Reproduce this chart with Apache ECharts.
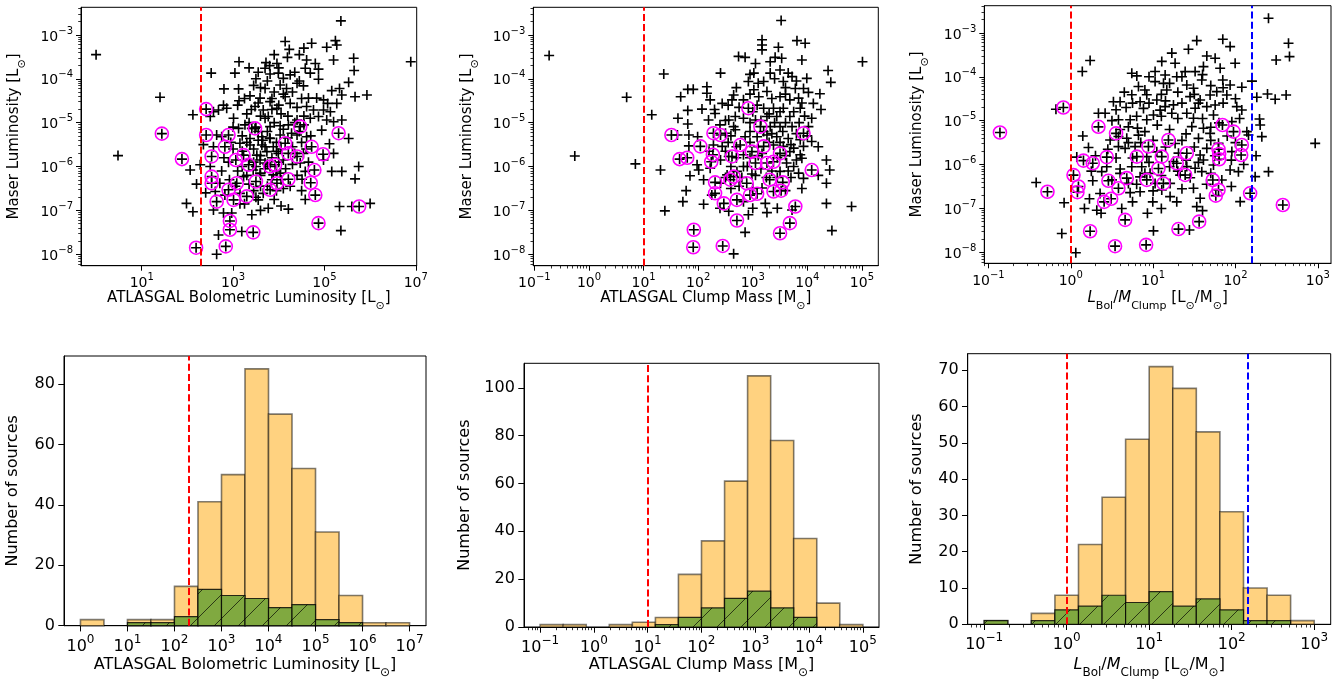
<!DOCTYPE html>
<html><head><meta charset="utf-8">
<script src="https://cdn.jsdelivr.net/npm/echarts@6/dist/echarts.min.js"></script>
<style>html,body{margin:0;padding:0;background:#fff}#c{width:1343px;height:681px}</style>
</head><body><div id="c"></div>
<script>
// ---------- DATA (all positional values are log10 of the physical quantity) ----------
// Panel 1: [log10 L_bol (Lsun), log10 L_maser (Lsun)]
const lumBolMaser = [[0.0,-3.45],[0.48,-5.75],[1.40,-4.42],
[4.14,-3.15],[4.23,-3.33],[4.19,-3.51],[3.96,-3.65],[3.72,-3.63],[3.70,-3.76],[3.81,-3.89],[3.99,-3.87],[4.10,-3.99],[4.25,-3.91],[3.13,-3.61],[3.04,-3.87],[2.52,-3.87],[2.80,-4.23],[3.12,-4.23],[3.13,-4.50],[3.37,-4.39],[3.59,-4.44],[3.48,-4.63],[3.70,-4.22],[4.03,-4.14],[4.17,-4.22],[4.14,-4.41],[4.25,-4.56],[3.81,-4.52],[3.96,-4.67],[3.66,-4.71],[3.77,-4.86],[2.79,-4.60],[2.86,-4.67],[2.68,-4.71],[2.57,-4.75],[2.50,-4.86],[2.12,-4.82],[3.01,-4.90],[3.26,-5.05],[3.12,-5.13],[3.41,-5.13],[3.81,-5.09],[4.03,-5.07],[4.21,-5.05],[4.28,-5.24],[4.03,-5.28],[3.81,-5.36],[3.63,-5.32],[2.64,-5.28],[2.75,-5.32],[2.57,-5.55],[3.15,-5.47],[3.37,-5.51],[3.63,-5.51],[3.88,-5.55],[3.99,-5.70],[3.74,-5.66],[3.52,-5.74],[2.28,-5.96],[2.50,-6.00],[2.06,-6.08],[2.20,-6.40],[2.71,-6.38],[2.92,-6.30],[3.23,-6.23],[3.59,-6.15],[4.03,-6.15],[3.66,-6.61],[3.15,-6.61],[2.82,-6.65],[2.61,-6.57],[2.57,-6.99],[1.98,-6.84],[2.12,-7.03],[2.79,-7.06],[2.97,-7.06],[3.41,-7.10],[3.19,-7.48],[2.68,-7.56],[2.64,-8.00],[3.55,-6.76],[3.77,-6.95],[4.21,-6.97],[3.37,-5.36],[3.59,-5.85],[3.70,-5.92],[3.44,-6.08],[3.88,-6.19],
[5.36,-2.68],[4.72,-3.19],[5.05,-3.28],[5.24,-3.13],[5.27,-3.23],[5.20,-3.57],[5.64,-3.53],[5.65,-3.81],[4.61,-3.57],[4.58,-3.76],[4.80,-3.65],[4.87,-3.78],[4.69,-3.87],[4.87,-4.01],[5.53,-4.08],[4.40,-4.10],[4.54,-4.16],[5.16,-4.27],[5.33,-4.22],[5.38,-4.37],[5.67,-4.41],[5.93,-4.37],[4.65,-4.44],[4.83,-4.44],[4.98,-4.48],[5.07,-4.56],[5.27,-4.56],[4.61,-4.63],[4.76,-4.71],[4.98,-4.71],[5.13,-4.75],[4.40,-4.94],[4.69,-4.90],[4.87,-4.86],[5.05,-4.94],[5.20,-4.98],[5.38,-4.94],[4.94,-5.17],[5.53,-5.36],[4.61,-5.32],[4.40,-5.28],[5.11,-5.48],[5.20,-5.70],[4.54,-5.70],[4.58,-6.11],[5.16,-6.11],[5.38,-6.11],[5.75,-6.00],[5.67,-6.28],[4.51,-6.29],[4.58,-6.75],[5.33,-6.91],[5.60,-6.91],[6.00,-6.84],[5.36,-7.46],[6.89,-3.61],[4.98,-5.85],[4.47,-5.92],
[3.5,-4.0],[3.6,-4.2],[3.9,-4.3],[4.0,-4.6],[3.7,-4.9],[3.9,-5.0],[3.55,-5.2],[3.65,-5.4],[3.95,-5.45],[4.05,-5.6],[3.45,-5.6],[3.6,-5.75],[3.85,-5.8],[4.1,-5.85],[3.5,-6.0],[3.7,-6.05],[3.95,-6.1],[4.15,-6.05],[3.3,-6.2],[3.6,-6.45],[3.45,-6.55],[4.1,-6.5],[3.85,-4.7],[4.2,-4.85],[3.3,-4.8],[3.2,-5.3],[3.0,-5.6],[2.9,-5.9],[3.1,-6.1],[4.3,-5.55],
[3.35,-3.75],[3.55,-3.85],[3.8,-3.7],[4.0,-3.75],[4.35,-3.85],[4.45,-4.05],[3.45,-4.15],[3.75,-4.05],[4.1,-4.35],[4.3,-4.3],[4.5,-4.45],[3.25,-4.45],[3.55,-4.55],[3.85,-4.45],[4.4,-4.65],[3.4,-4.7],[3.6,-4.85],[4.05,-4.8],[4.35,-5.0],[4.55,-5.05],[3.35,-5.0],[3.5,-5.1],[3.75,-5.2],[4.1,-5.15],[4.45,-5.2],[3.3,-5.45],[3.55,-5.4],[3.8,-5.35],[4.2,-5.35],[4.5,-5.45],[3.2,-5.65],[3.7,-5.55],[3.95,-5.65],[4.35,-5.7],[4.6,-5.6],[3.35,-5.85],[3.45,-5.9],[3.75,-5.95],[4.0,-5.9],[4.3,-5.95],[3.2,-6.0],[3.6,-6.2],[3.85,-6.3],[4.05,-6.3],[4.4,-6.2],[3.35,-6.4],[3.75,-6.45],[3.95,-6.55],[4.25,-6.45],[3.5,-6.7],[3.9,-6.75],[4.05,-6.9],[3.25,-6.85],[3.6,-7.0],[4.5,-6.55],[4.65,-5.9],[4.7,-5.3],[4.55,-4.85],[3.1,-4.6],[3.0,-5.1],[2.95,-5.45],[2.8,-5.8],[2.75,-6.1],[3.05,-6.45],[3.15,-6.85],[2.35,-5.5],[2.4,-6.6],[4.45,-3.45],[4.55,-3.3],[3.9,-3.45]];
const lumBolMaserMarked = [[1.44,-5.25],[2.41,-4.69],[3.48,-5.13],[2.41,-5.28],[2.90,-5.28],[2.82,-5.55],[4.14,-5.47],[4.21,-5.70],[3.23,-5.74],[3.34,-5.96],[3.06,-5.85],[2.53,-5.77],[1.88,-5.83],[2.53,-6.23],[2.53,-6.38],[3.08,-6.38],[3.50,-6.34],[3.81,-6.00],[3.92,-5.96],[4.21,-6.29],[3.96,-6.38],[3.81,-6.53],[3.30,-6.68],[2.90,-6.53],[3.01,-6.76],[2.64,-6.80],[2.93,-7.24],[2.93,-7.44],[3.44,-7.50],[2.84,-7.82],[2.19,-7.85],
[4.47,-5.09],[5.31,-5.24],[4.72,-5.55],[4.97,-5.72],[4.40,-5.77],[4.78,-6.08],[4.70,-6.37],[4.80,-6.65],[5.76,-6.91],[4.87,-7.29]];

// Panel 2: [log10 M_clump (Msun), log10 L_maser]
const massMaser = [[-0.73,-3.47],[-0.26,-5.76],
[0.69,-4.42],[0.85,-5.94],[1.15,-4.82],[1.37,-3.89],[1.31,-6.08],[1.39,-7.01],[1.62,-5.28],[1.68,-4.41],[1.81,-4.24],[1.91,-4.24],[1.81,-4.72],[1.63,-4.90],[1.81,-5.03],[1.83,-5.28],[1.99,-5.32],[1.83,-5.53],[1.98,-5.96],[1.85,-6.21],[2.01,-6.08],[1.78,-6.55],[1.72,-6.80],[2.10,-6.86],[2.16,-4.18],[2.16,-4.33],[2.22,-4.48],[2.07,-4.69],[2.31,-4.79],[2.44,-4.56],[2.19,-4.94],[2.50,-5.24],[2.28,-5.51],[2.44,-5.54],[2.41,-5.85],[2.56,-5.77],[2.22,-6.04],[2.53,-6.19],[2.41,-6.38],[2.25,-6.65],[2.56,-7.02],[2.41,-3.87],[2.62,-4.48],[2.56,-4.94],[2.65,-5.09],
[3.52,-2.67],[3.17,-3.11],[3.17,-3.23],[3.17,-3.34],[3.47,-3.28],[3.81,-3.13],[3.96,-3.19],[2.74,-3.49],[2.86,-3.51],[3.05,-3.65],[3.32,-3.61],[3.41,-3.51],[3.53,-3.53],[3.90,-3.57],[4.38,-3.81],[4.43,-4.08],[5.01,-3.61],[3.02,-3.87],[3.32,-3.87],[3.50,-3.80],[3.65,-3.87],[3.72,-3.95],[2.92,-4.06],[3.20,-4.06],[3.56,-4.06],[3.99,-3.99],[3.78,-4.22],[3.93,-4.22],[4.02,-4.31],[4.23,-4.34],[2.65,-4.37],[2.83,-4.48],[3.02,-4.25],[3.11,-4.41],[3.26,-4.29],[3.50,-4.41],[3.68,-4.48],[3.84,-4.44],[4.11,-4.56],[3.08,-4.60],[3.20,-4.67],[3.38,-4.67],[3.56,-4.67],[3.87,-4.67],[4.08,-4.90],[2.68,-4.86],[2.83,-4.90],[3.05,-4.94],[3.26,-4.86],[3.44,-4.86],[3.68,-4.86],[3.32,-5.09],[3.50,-5.09],[3.72,-5.09],[4.02,-5.09],[4.08,-5.43],[2.68,-5.16],[2.86,-5.32],[3.08,-5.32],[3.26,-5.28],[3.44,-5.32],[3.65,-5.36],[3.87,-5.39],[3.38,-5.51],[3.56,-5.54],[3.75,-5.58],[3.93,-5.54],[2.83,-5.73],[3.17,-5.70],[3.68,-5.66],[3.87,-5.73],[3.90,-5.81],[3.62,-5.92],[3.75,-6.00],[2.83,-6.00],[2.71,-6.11],[2.985,-6.17],[3.50,-6.11],[3.84,-6.15],[3.93,-6.27],[4.35,-5.85],[4.41,-6.08],[4.35,-6.38],[3.17,-6.49],[2.83,-6.80],[3.23,-6.84],[3.26,-7.05],[2.92,-7.10],[3.72,-6.99],[4.35,-6.84],[4.81,-6.91],[4.45,-7.46],[2.86,-7.50],[2.65,-7.99],
[2.95,-3.9],[3.1,-4.1],[3.4,-4.0],[3.6,-4.2],[3.8,-4.05],[2.7,-4.2],[2.95,-4.35],[3.35,-4.45],[3.6,-4.35],[3.9,-4.55],[2.55,-4.6],[2.75,-4.65],[3.0,-4.75],[3.3,-4.8],[3.5,-4.75],[3.75,-4.75],[3.95,-4.85],[2.5,-4.95],[2.95,-5.0],[3.15,-4.95],[3.4,-5.0],[3.6,-5.0],[3.85,-5.0],[2.6,-5.3],[2.95,-5.2],[3.2,-5.2],[3.35,-5.25],[3.55,-5.2],[3.8,-5.25],[4.0,-5.3],[2.55,-5.45],[2.7,-5.55],[2.95,-5.45],[3.1,-5.55],[3.3,-5.45],[3.5,-5.45],[3.7,-5.5],[4.2,-5.55],[2.5,-5.65],[2.7,-5.8],[2.95,-5.8],[3.1,-5.75],[3.45,-5.8],[3.6,-5.75],[3.8,-5.85],[2.6,-6.0],[2.9,-6.0],[3.15,-6.05],[3.35,-6.1],[3.65,-6.1],[2.5,-6.25],[2.8,-6.25],[3.05,-6.2],[3.25,-6.25],[3.45,-6.25],[3.7,-6.25],[2.6,-6.5],[2.75,-6.45],[3.0,-6.5],[3.6,-6.55],[3.9,-6.5],[2.4,-6.95],[3.0,-6.95],[3.45,-6.95],[2.3,-4.7],[2.4,-5.05],[2.2,-5.65],[2.1,-6.3],[4.25,-4.7],[4.2,-6.2]];
const massMaserMarked = [[1.51,-5.28],[2.04,-5.54],[1.66,-5.83],[1.80,-5.80],[1.92,-7.44],[1.91,-7.84],[2.45,-7.81],[2.28,-5.24],[2.41,-5.28],[2.27,-5.73],[2.24,-5.89],[2.31,-6.36],[2.59,-6.30],[2.31,-6.61],[2.47,-6.84],
[2.92,-4.67],[3.14,-5.09],[3.93,-5.24],[2.77,-5.51],[3.20,-5.54],[2.62,-5.77],[2.985,-5.66],[3.50,-5.70],[3.05,-5.92],[3.26,-5.92],[3.38,-5.89],[4.08,-6.08],[2.65,-6.23],[2.89,-6.38],[3.31,-6.30],[3.55,-6.36],[3.38,-6.57],[3.52,-6.55],[2.95,-6.65],[3.08,-6.62],[2.71,-6.76],[2.71,-7.23],[3.78,-6.91],[3.68,-7.29],[3.50,-7.52]];

// Panel 3: [log10 L_bol/M_clump (Lsun/Msun), log10 L_maser]
const ratioMaser = [[-0.42,-6.41],
[0.235,-3.63],[0.14,-3.88],[-0.18,-4.74],[0.146,-5.35],[0.215,-5.61],[0.073,-5.83],[-0.081,-6.87],[0.267,-6.37],[0.356,-6.66],[0.227,-6.78],[0.166,-7.00],[0.316,-7.04],[0.368,-7.11],[0.619,-7.00],[-0.109,-7.57],[1.004,-7.51],[0.931,-7.11],[0.996,-6.85],[0.061,-8.01],[0.336,-4.83],[0.417,-4.83],[0.518,-4.57],[0.599,-4.57],[0.672,-4.70],[0.579,-4.98],[0.721,-4.98],[0.70,-5.14],[0.81,-5.17],[0.68,-5.40],[0.822,-5.33],[0.579,-5.36],[0.478,-5.44],[0.66,-5.63],[0.781,-5.59],[0.923,-5.82],[1.045,-5.71],[0.437,-6.05],[0.376,-6.16],[0.599,-6.20],[0.70,-6.43],[0.842,-6.28],[1.024,-6.43],[1.247,-5.93],[1.328,-6.24],[1.206,-6.43],[0.842,-6.62],[0.721,-6.64],[1.105,-6.58],[1.206,-6.73],[1.287,-6.85],[1.267,-5.52],[1.308,-5.74],[0.741,-3.92],[0.802,-3.98],[1.024,-3.88],[1.146,-3.96],[1.024,-4.11],[1.126,-4.15],[1.166,-4.30],[0.822,-4.22],[0.923,-4.41],[0.842,-4.57],[1.045,-4.53],[0.883,-4.72],[1.004,-4.87],[1.085,-4.76],[1.146,-4.68],[1.227,-4.83],[1.247,-4.64],[1.267,-3.69],[1.227,-3.46],[1.105,-3.65],[0.741,-4.41],[0.923,-4.98],[1.287,-4.00],[0.862,-6.05],[0.963,-6.20],[0.579,-5.59],[0.741,-6.05],
[2.401,-2.666],[2.644,-3.236],[2.656,-3.540],[2.494,-3.616],[1.530,-3.175],[1.429,-3.373],[1.846,-3.145],[1.935,-3.312],[1.652,-3.525],[1.753,-3.578],[1.996,-3.692],[1.611,-3.768],[1.814,-3.806],[1.389,-3.882],[1.510,-3.882],[1.591,-4.072],[1.846,-4.072],[2.077,-4.239],[1.935,-4.186],[1.773,-4.338],[1.490,-4.262],[1.409,-4.186],[1.449,-4.452],[1.571,-4.528],[1.692,-4.414],[1.895,-4.414],[2.259,-4.467],[2.389,-4.391],[2.482,-4.513],[2.615,-4.414],[2.016,-4.680],[2.077,-4.756],[1.510,-4.718],[1.652,-4.680],[1.753,-4.642],[1.409,-4.832],[1.733,-4.870],[1.490,-4.946],[1.956,-5.022],[2.138,-5.250],[2.292,-4.961],[2.300,-5.098],[2.320,-5.364],[2.968,-5.516],[1.611,-5.174],[1.470,-5.136],[1.551,-5.402],[1.692,-5.288],[1.794,-5.516],[1.652,-5.630],[1.956,-5.705],[1.571,-5.782],[1.611,-5.895],[1.733,-6.009],[1.409,-6.047],[1.510,-6.085],[1.591,-6.161],[1.834,-6.351],[1.935,-6.123],[2.036,-6.161],[2.239,-6.275],[2.401,-6.161],[1.490,-6.541],[1.571,-6.769],[1.530,-6.959],[2.057,-6.845],[1.441,-7.491],[2.158,-5.326],
[0.95,-4.0],[1.2,-4.15],[1.35,-4.0],[1.6,-3.95],[1.7,-4.2],[0.65,-4.35],[0.9,-4.3],[1.1,-4.4],[1.3,-4.35],[1.5,-4.4],[1.85,-4.25],[0.55,-4.75],[0.75,-4.6],[0.95,-4.6],[1.15,-4.55],[1.35,-4.6],[1.55,-4.6],[1.85,-4.6],[2.0,-4.5],[0.5,-5.0],[0.8,-4.9],[1.1,-4.9],[1.3,-4.95],[1.6,-4.95],[1.8,-5.05],[2.05,-4.95],[0.6,-5.2],[0.9,-5.25],[1.05,-5.1],[1.2,-5.2],[1.4,-5.3],[1.7,-5.15],[1.9,-5.35],[0.45,-5.65],[0.7,-5.5],[0.85,-5.5],[1.0,-5.45],[1.15,-5.6],[1.35,-5.45],[1.5,-5.6],[1.7,-5.45],[2.0,-5.5],[0.55,-5.85],[0.75,-5.85],[0.95,-5.95],[1.2,-6.05],[1.4,-5.9],[1.55,-5.95],[1.75,-5.8],[1.95,-5.9],[0.6,-6.1],[0.9,-6.2],[1.1,-6.25],[1.3,-6.15],[1.45,-6.3],[1.7,-6.2],[2.1,-6.0],[0.5,-6.35],[0.8,-6.45],[1.0,-6.6],[1.35,-6.55],[1.65,-6.45],[1.95,-6.5],[0.75,-6.85],[1.1,-7.0],[1.6,-7.05],[0.3,-5.8],[0.25,-6.15],[2.2,-4.1],[2.25,-5.8]];
const ratioMaserMarked = [[-0.86,-5.27],
[-0.09,-4.70],[0.336,-5.14],[0.55,-5.29],[0.154,-5.91],[0.267,-5.97],[0.437,-5.83],[0.033,-6.24],[0.093,-6.50],[0.081,-6.63],[-0.283,-6.62],[0.457,-6.37],[0.579,-6.54],[0.405,-6.85],[0.490,-6.78],[0.66,-7.26],[0.235,-7.52],[0.538,-7.86],[0.915,-7.83],[0.943,-5.59],[0.802,-5.82],[0.68,-6.31],[0.923,-6.35],[1.125,-6.43],[1.065,-6.09],[1.105,-5.82],[1.287,-5.97],[1.186,-5.44],[1.308,-7.47],
[1.842,-5.098],[1.976,-5.250],[1.794,-5.652],[1.802,-5.759],[1.802,-5.880],[2.077,-5.554],[2.069,-5.782],[1.409,-5.743],[1.389,-6.237],[1.725,-6.351],[1.794,-6.579],[1.761,-6.708],[2.178,-6.655],[2.575,-6.921],[1.559,-7.301]];

// Histograms: bin edges (log10) and counts
const lumBinEdges = [0,0.5,1,1.5,2,2.5,3,3.5,4,4.5,5,5.5,6,6.5,7];
const lumCountsAll = [2,0,2,2,13,41,50,85,70,52,31,10,1,1];
const lumCountsMarked = [0,0,1,1,3,12,10,9,6,7,2,1,0,0];
const massBinEdges = [-1,-0.571,-0.143,0.286,0.714,1.143,1.571,2,2.429,2.857,3.286,3.714,4.143,4.571,5];
const massCountsAll = [1,1,0,1,2,4,22,36,61,105,78,37,10,1];
const massCountsMarked = [0,0,0,0,0,1,4,8,12,15,8,4,0,0];
const ratioBinEdges = [-1,-0.714,-0.429,-0.143,0.143,0.429,0.714,1,1.286,1.571,1.857,2.143,2.429,2.714,3];
const ratioCountsAll = [1,0,3,8,22,35,51,71,65,53,31,10,8,1];
const ratioCountsMarked = [1,0,1,4,5,8,6,9,5,7,4,1,1,0];

// Thresholds (physical units)
const lumThreshold = 200;
const massThreshold = 10;
const ratioThresholdLow = 1;
const ratioThresholdHigh = 160;

// Tick labels (exponents / counts)
const ticksLumScatter = [1,3,5,7];
const ticksMassExp = [-1,0,1,2,3,4,5];
const ticksRatioExp = [-1,0,1,2,3];
const ticksMaserExp = [-8,-7,-6,-5,-4,-3];
const ticksLumHist = [0,1,2,3,4,5,6,7];
const ticksCountLum = [0,20,40,60,80];
const ticksCountMass = [0,20,40,60,80,100];
const ticksCountRatio = [0,10,20,30,40,50,60,70];

// ---------- CHART ----------
const F = 'DejaVu Sans';
const SUN = '\u2299';
const PLUS = 'path://M-1.3,-8H1.3V-1.3H8V1.3H1.3V8H-1.3V1.3H-8V-1.3H-1.3Z';

function richPow(fs, sfs, lh) {
  return {
    b: {fontSize: fs, fontFamily: F, color: '#000', lineHeight: lh, verticalAlign: 'bottom'},
    s: {fontSize: sfs, fontFamily: F, color: '#000', lineHeight: lh, verticalAlign: 'top'}
  };
}
function powFmt(v) {
  const e = Math.round(v);
  return '{b|10}{s|' + (e < 0 ? '\u2212' + (-e) : e) + '}';
}
function minorList(r) {
  const out = [];
  for (let e = Math.floor(r[0]); e <= Math.ceil(r[1]); e++) {
    for (let k = 2; k <= 9; k++) {
      const v = e + Math.log10(k);
      if (v > r[0] && v < r[1]) out.push(v);
    }
  }
  return out;
}

const panels = [
  {type: 'scatter', grid: {left: 81, top: 7.3, width: 335.7, height: 258.4}, xr: [-0.33, 7.02], yr: [-8.26, -2.37],
   xt: ticksLumScatter, yt: ticksMaserExp, xMinor: false, yMinor: true, pts: lumBolMaser, marked: lumBolMaserMarked,
   lines: [[lumThreshold, '#ff0000']], fs: 14, tfs: 15,
   xTitle: '{n|ATLASGAL Bolometric Luminosity [L}{sub|' + SUN + '}{n|]}', yTitle: '{n|Maser Luminosity [L}{sub|' + SUN + '}{n|]}', yTitleX: 17},
  {type: 'scatter', grid: {left: 533.3, top: 7.3, width: 345, height: 258.4}, xr: [-1.02, 5.30], yr: [-8.26, -2.37],
   xt: ticksMassExp, yt: ticksMaserExp, xMinor: true, yMinor: true, pts: massMaser, marked: massMaserMarked,
   lines: [[massThreshold, '#ff0000']], fs: 14, tfs: 15,
   xTitle: '{n|ATLASGAL Clump Mass [M}{sub|' + SUN + '}{n|]}', yTitle: '{n|Maser Luminosity [L}{sub|' + SUN + '}{n|]}', yTitleX: 470},
  {type: 'scatter', grid: {left: 984.3, top: 5.7, width: 346.7, height: 257.6}, xr: [-1.05, 3.16], yr: [-8.25, -2.38],
   xt: ticksRatioExp, yt: ticksMaserExp, xMinor: true, yMinor: true, pts: ratioMaser, marked: ratioMaserMarked,
   lines: [[ratioThresholdLow, '#ff0000'], [ratioThresholdHigh, '#0000ff']], fs: 14, tfs: 15,
   xTitle: '{i|L}{sub|Bol}{n|/}{i|M}{sub|Clump}{n| [L}{sub|' + SUN + '}{n|/M}{sub|' + SUN + '}{n|]}', yTitle: '{n|Maser Luminosity [L}{sub|' + SUN + '}{n|]}', yTitleX: 920},
  {type: 'hist', grid: {left: 64, top: 356, width: 362, height: 269.7}, xr: [-0.35, 7.35], yr: [0, 89.25],
   xt: ticksLumHist, yt: ticksCountLum, xMinor: false, edges: lumBinEdges, all: lumCountsAll, marked: lumCountsMarked,
   lines: [[lumThreshold, '#ff0000']], fs: 16, tfs: 16,
   xTitle: '{n|ATLASGAL Bolometric Luminosity [L}{sub|' + SUN + '}{n|]}', yTitle: '{n|Number of sources}', yTitleX: 16},
  {type: 'hist', grid: {left: 524, top: 363.3, width: 355, height: 263.7}, xr: [-1.3, 5.3], yr: [0, 110.25],
   xt: ticksMassExp, yt: ticksCountMass, xMinor: true, edges: massBinEdges, all: massCountsAll, marked: massCountsMarked,
   lines: [[massThreshold, '#ff0000']], fs: 16, tfs: 16,
   xTitle: '{n|ATLASGAL Clump Mass [M}{sub|' + SUN + '}{n|]}', yTitle: '{n|Number of sources}', yTitleX: 468},
  {type: 'hist', grid: {left: 967.7, top: 353.7, width: 363, height: 270.6}, xr: [-1.2, 3.2], yr: [0, 74.55],
   xt: ticksRatioExp, yt: ticksCountRatio, xMinor: true, edges: ratioBinEdges, all: ratioCountsAll, marked: ratioCountsMarked,
   lines: [[ratioThresholdLow, '#ff0000'], [ratioThresholdHigh, '#0000ff']], fs: 16, tfs: 16,
   xTitle: '{i|L}{sub|Bol}{n|/}{i|M}{sub|Clump}{n| [L}{sub|' + SUN + '}{n|/M}{sub|' + SUN + '}{n|]}', yTitle: '{n|Number of sources}', yTitleX: 920}
];

const grids = [], xAxes = [], yAxes = [], series = [], graphics = [];

function hatchLines(x0, y0, x1, y1, s) {
  const out = [];
  for (let c = Math.ceil((x0 + y0) / s) * s; c <= x1 + y1; c += s) {
    const xa = Math.max(x0, c - y1), xb = Math.min(x1, c - y0);
    if (xb > xa) out.push({type: 'line', shape: {x1: xa, y1: c - xa, x2: xb, y2: c - xb},
      style: {stroke: 'rgba(0,0,0,0.85)', lineWidth: 0.8}});
  }
  return out;
}
function barRender(fill, stroke, lw, hatch) {
  return function (params, api) {
    const h = api.value(2);
    if (!(h > 0)) return null;
    const bl = api.coord([api.value(0), 0]);
    const tr = api.coord([api.value(1), h]);
    const x0 = bl[0], y0 = tr[1], x1 = tr[0], y1 = bl[1];
    const children = [{type: 'rect', shape: {x: x0, y: y0, width: x1 - x0, height: y1 - y0}, style: {fill: fill}}];
    if (hatch) children.push.apply(children, hatchLines(x0, y0, x1, y1, 24));
    children.push({type: 'rect', shape: {x: x0, y: y0, width: x1 - x0, height: y1 - y0}, style: {fill: 'none', stroke: stroke, lineWidth: lw}});
    return {type: 'group', children: children};
  };
}

panels.forEach(function (p, gi) {
  const fs = p.fs;
  const scale = fs / 14;
  grids.push(Object.assign({show: true, borderColor: '#000', borderWidth: 1, backgroundColor: 'transparent', containLabel: false}, p.grid));
  const rich = richPow(fs, Math.round(fs * 0.72), Math.round(fs * 1.3));
  const majLen = 5 * scale, minLen = 2.8 * scale;
  const xi = xAxes.length;
  xAxes.push({type: 'value', gridIndex: gi, min: p.xr[0], max: p.xr[1], position: 'bottom',
    axisLine: {show: true, onZero: false, lineStyle: {color: '#000', width: 1}},
    axisTick: {show: true, customValues: p.xt, length: majLen, lineStyle: {color: '#000', width: 1}},
    axisLabel: {show: true, customValues: p.xt, formatter: powFmt, rich: rich, margin: 7 * scale, color: '#000'},
    splitLine: {show: false}});
  const xm = minorList(p.xr);
  xAxes.push({type: 'value', gridIndex: gi, min: p.xr[0], max: p.xr[1], position: 'bottom',
    axisLine: {show: false, onZero: false},
    axisTick: {show: !!p.xMinor, customValues: p.xMinor ? xm : [p.xt[0]], length: minLen, lineStyle: {color: '#000', width: 0.8}},
    axisLabel: {show: false}, splitLine: {show: false}});
  const yi = yAxes.length;
  const isScatter = p.type === 'scatter';
  yAxes.push({type: 'value', gridIndex: gi, min: p.yr[0], max: p.yr[1], position: 'left',
    axisLine: {show: true, onZero: false, lineStyle: {color: '#000', width: 1}},
    axisTick: {show: true, customValues: p.yt, length: majLen, lineStyle: {color: '#000', width: 1}},
    axisLabel: isScatter ? {show: true, customValues: p.yt, formatter: powFmt, rich: rich, margin: 8 * scale, color: '#000'}
                         : {show: true, customValues: p.yt, fontFamily: F, fontSize: fs, color: '#000', margin: 8 * scale},
    splitLine: {show: false}});
  yAxes.push({type: 'value', gridIndex: gi, min: p.yr[0], max: p.yr[1], position: 'left',
    axisLine: {show: false, onZero: false},
    axisTick: {show: isScatter, customValues: isScatter ? minorList(p.yr) : [0], length: minLen, lineStyle: {color: '#000', width: 0.8}},
    axisLabel: {show: false}, splitLine: {show: false}});

  const markLine = {silent: true, symbol: 'none', label: {show: false}, z: 6, animation: false,
    data: p.lines.map(function (l) { return {xAxis: Math.log10(l[0]), lineStyle: {color: l[1], type: [7, 3.2], width: 2}}; })};

  if (isScatter) {
    series.push({type: 'scatter', xAxisIndex: xi, yAxisIndex: yi, data: p.pts.concat(p.marked),
      symbol: PLUS, symbolSize: 10, itemStyle: {color: '#000', opacity: 1}, z: 3, silent: true, animation: false});
    series.push({type: 'scatter', xAxisIndex: xi, yAxisIndex: yi, data: p.marked,
      symbol: 'circle', symbolSize: 13, itemStyle: {color: 'rgba(0,0,0,0)', borderColor: '#ff00ff', borderWidth: 1.6, opacity: 1},
      z: 4, silent: true, animation: false, markLine: markLine});
  } else {
    const allData = p.all.map(function (c, i) { return [p.edges[i], p.edges[i + 1], c]; });
    const mData = p.marked.map(function (c, i) { return [p.edges[i], p.edges[i + 1], c]; });
    series.push({type: 'custom', xAxisIndex: xi, yAxisIndex: yi, data: allData, encode: {x: [0, 1], y: 2},
      renderItem: barRender('#ffd280', 'rgba(0,0,0,0.5)', 1.6, false), z: 2, silent: true, animation: false});
    series.push({type: 'custom', xAxisIndex: xi, yAxisIndex: yi, data: mData, encode: {x: [0, 1], y: 2},
      renderItem: barRender('#80a940', 'rgba(0,0,0,0.8)', 1.2, true), z: 3, silent: true, animation: false, markLine: markLine});
  }

  const tfs = p.tfs;
  const titleRich = {
    n: {fontSize: tfs, fontFamily: F, fill: '#000', lineHeight: tfs + 6, verticalAlign: 'top'},
    i: {fontSize: tfs, fontFamily: F, fontStyle: 'italic', fill: '#000', lineHeight: tfs + 6, verticalAlign: 'top'},
    sub: {fontSize: Math.round(tfs * 0.72), fontFamily: F, fill: '#000', lineHeight: tfs + 6, verticalAlign: 'bottom'}
  };
  const cx = p.grid.left + p.grid.width / 2;
  const cy = p.grid.top + p.grid.height / 2;
  graphics.push({type: 'text', x: cx, y: isScatter ? 301 : 668, silent: true,
    style: {text: p.xTitle, rich: titleRich, align: 'center', verticalAlign: 'middle', fontFamily: F, fontSize: tfs, fill: '#000'}});
  graphics.push({type: 'text', x: p.yTitleX, y: cy, rotation: Math.PI / 2, silent: true,
    style: {text: p.yTitle, rich: titleRich, align: 'center', verticalAlign: 'middle', fontFamily: F, fontSize: tfs, fill: '#000'}});
});

const chart = echarts.init(document.getElementById('c'), null, {renderer: 'canvas', width: 1343, height: 681});
chart.setOption({
  animation: false,
  backgroundColor: '#ffffff',
  textStyle: {fontFamily: F},
  grid: grids, xAxis: xAxes, yAxis: yAxes, series: series, graphic: graphics
});
</script></body></html>
